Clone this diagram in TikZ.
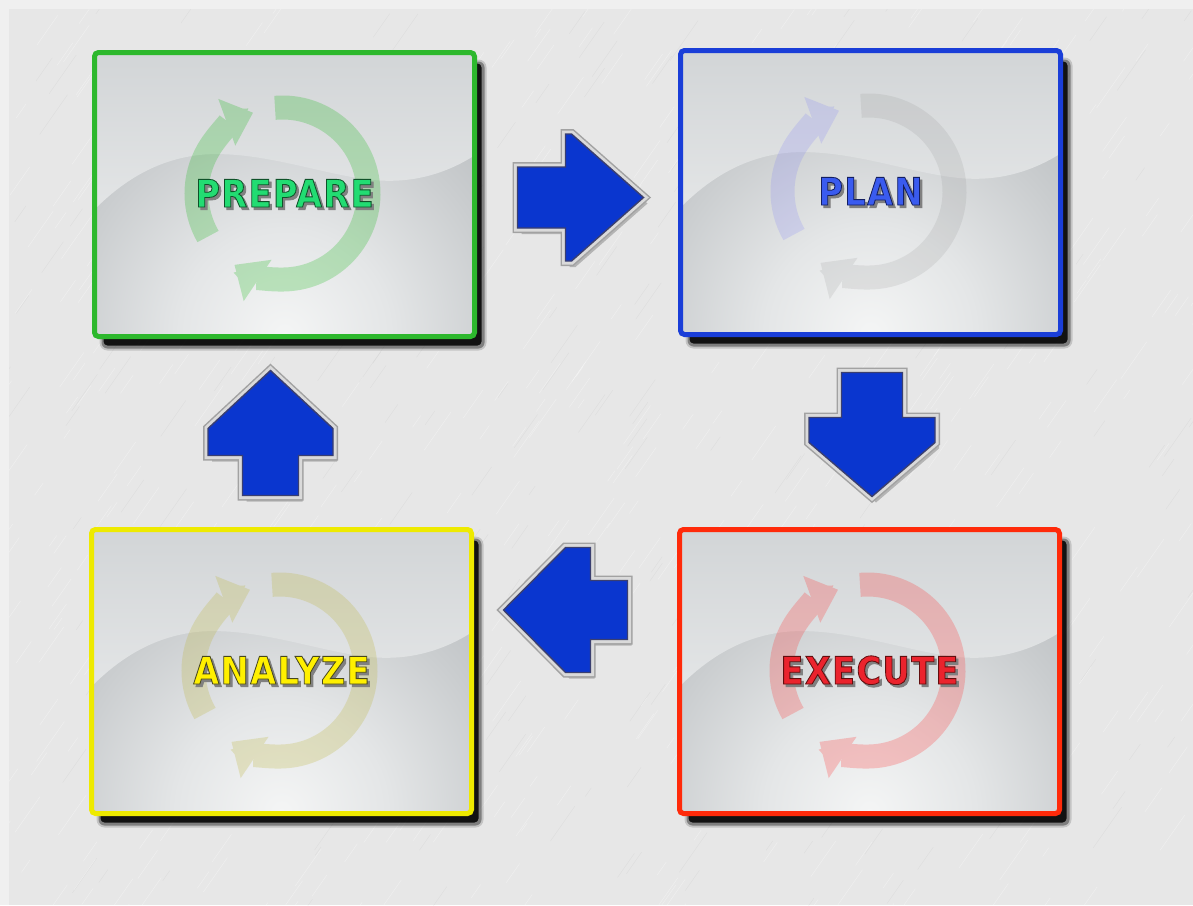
\documentclass[tikz,border=0pt]{standalone}
\usepackage{fontspec}
\usetikzlibrary{arrows.meta,calc}
\newfontfamily\labelfontfam{DejaVu Sans}[FakeStretch=0.88,LetterSpace=4,FakeBold=2.2]
\newcommand\lblfont{\labelfontfam\bfseries\fontsize{38}{42}\selectfont}

\definecolor{bgouter}{HTML}{F0F0F0}
\definecolor{bgpanel}{HTML}{E7E7E7}
\definecolor{topA}{HTML}{D2D5D7}
\definecolor{topB}{HTML}{E3E5E6}
\definecolor{glowA}{HTML}{F4F5F5}
\definecolor{glowB}{HTML}{E4E6E7}
\definecolor{glowC}{HTML}{CACDCF}
\definecolor{glowD}{HTML}{B2B6B9}
\definecolor{glowE}{HTML}{A3A7AA}
\definecolor{prepBorder}{HTML}{2DB82D}
\definecolor{prepText}{HTML}{22DC72}
\definecolor{planBorder}{HTML}{1A3ED8}
\definecolor{planText}{HTML}{3A5BEF}
\definecolor{execBorder}{HTML}{FF2A0A}
\definecolor{execText}{HTML}{EB232D}
\definecolor{anaBorder}{HTML}{EEEA00}
\definecolor{anaText}{HTML}{FFF000}
\definecolor{arrowblue}{HTML}{0A36CF}
\definecolor{arrowedge}{HTML}{3A3F70}
\definecolor{silverA}{HTML}{A2A2A2}
\definecolor{silverB}{HTML}{DADADA}
\definecolor{iconGray}{HTML}{8A8A8A}

\pgfdeclareradialshading{boxglow}{\pgfpoint{0bp}{0bp}}{%
 color(0bp)=(glowA); color(6bp)=(glowB); color(12.5bp)=(glowC);
 color(19bp)=(glowD); color(25bp)=(glowE); color(50bp)=(glowE)}

\tikzset{
 stagebox/.style={draw, line width=5pt, rounded corners=4pt,
   minimum width=380pt, minimum height=284pt, inner sep=0pt, font=\lblfont},
 iconarc/.style={line width=24pt, -{Triangle[width=48pt,length=28pt]}},
}

% text with dark outline (stroke colour set by a pdf literal) and a drop shadow
% #1 fill colour, #2 outline as pdf rgb triple, #3 text
\newcommand\fxtext[3]{%
 \rlap{\kern2.4pt\raisebox{-2.6pt}{\color{black!50}#3}}%
 {\color{#1}\special{pdf:literal direct #2 RG}#3}}

% #1 name, #2 x, #3 y (top-left of border centre line), #4 border, #5 text colour, #6 label
% icon colours from \icA, \icB, opacity \icO, outline \olc
\newcommand\stage[6]{%
\begin{scope}[shift={(#2,#3)}]
 \fill[black,opacity=.15,rounded corners=8pt] (5,7) rectangle (392,298);
 \fill[black,opacity=.35,rounded corners=6pt] (7,9) rectangle (390,296);
 \fill[black,opacity=.85,rounded corners=4pt] (9,11) rectangle (387,293);
 \begin{scope}
  \clip[rounded corners=3pt] (0,0) rectangle (380,284);
  \shade[shading=boxglow] (190,282) circle (440);
  \shade[top color=topA, bottom color=topB]
    (0,0) -- (380,0) -- (380,103)
    .. controls (350,122) and (318,130) .. (285,128)
    .. controls (235,125) and (170,98) .. (110,102)
    .. controls (60,106) and (25,132) .. (0,157) -- cycle;
  \begin{scope}[transparency group, opacity=\icO]
   \draw[iconarc, draw=\icA] (188,141) ++(150:86) arc[start angle=150, end angle=250, radius=86];
   \draw[iconarc, draw=\icB] (188,141) ++(-95:86) arc[start angle=-95, end angle=124, radius=86];
  \end{scope}
 \end{scope}
 \node[stagebox, draw=#4] (#1) at (190,142) {\fxtext{#5}{\olc}{#6}};
\end{scope}}

% #1 origin, #2 rotation, #3 shaft, #4 flat, #5 head diagonal, #6 shaft half width, #7 head half width
\newcommand\blockarrow[7]{%
 \def\arrowpath{(0,-#6) -- (#3,-#6) -- (#3,-#7) -- ({#3+#4},-#7) -- ({#3+#4+#5},0) -- ({#3+#4},#7) -- (#3,#7) -- (#3,#6) -- (0,#6) -- cycle}%
 \fill[black, opacity=.22, shift={($#1+(4,6)$)}, rotate=#2] \arrowpath;
 \draw[line width=10pt, draw=silverA, shift={#1}, rotate=#2] \arrowpath;
 \draw[line width=7pt, draw=silverB, shift={#1}, rotate=#2] \arrowpath;
 \filldraw[fill=arrowblue, draw=arrowedge, line width=1.4pt, shift={#1}, rotate=#2] \arrowpath;
}

\begin{document}
\begin{tikzpicture}[x=1pt,y=-1pt]
\useasboundingbox (0,0) rectangle (1193,905);
\fill[bgouter] (0,0) rectangle (1193,905);
\fill[bgpanel] (9,9) rectangle (1193,905);
\begin{scope}
 \clip (9,9) rectangle (1193,905);
 \pgfmathsetseed{7}
 \foreach \i in {1,...,700}{
  \pgfmathsetmacro\xa{rnd*1500-150}
  \pgfmathsetmacro\ya{rnd*1000}
  \pgfmathsetmacro\ll{10+rnd*40}
  \draw[white, opacity=.35, line width=.5pt] (\xa,\ya) -- ++(-55:\ll);
 }
 \foreach \i in {1,...,300}{
  \pgfmathsetmacro\xa{rnd*1500-150}
  \pgfmathsetmacro\ya{rnd*1000}
  \pgfmathsetmacro\ll{10+rnd*40}
  \draw[black, opacity=.035, line width=.5pt] (\xa,\ya) -- ++(-55:\ll);
 }
\end{scope}

\def\icA{green!70!black}\def\icB{green!70!black}\def\icO{0.22}\def\olc{0.06 0.32 0.16}
\stage{prepare}{94.5}{52.5}{prepBorder}{prepText}{PREPARE}
\def\icA{blue!60}\def\icB{iconGray}\def\icO{0.16}\def\olc{0.08 0.12 0.38}
\stage{plan}{680.5}{50.5}{planBorder}{planText}{PLAN}
\def\icA{yellow!70!black}\def\icB{yellow!70!black}\def\icO{0.25}\def\olc{0.28 0.28 0.12}
\stage{analyze}{91.5}{529.5}{anaBorder}{anaText}{ANALYZE}
\def\icA{red!80}\def\icB{red!80}\def\icO{0.25}\def\olc{0.38 0.06 0.06}
\stage{execute}{679.5}{529.5}{execBorder}{execText}{EXECUTE}

% block arrows between the stages
\blockarrow{(517.5,197.5)}{0}{48}{6}{72}{30.5}{63.5}
\blockarrow{(872,372.5)}{-90}{45}{25}{54}{30.5}{63}
\blockarrow{(627.5,610)}{180}{37}{25}{62}{29.5}{62.5}
\blockarrow{(270.5,495.5)}{90}{40}{27}{58}{28}{62.5}
\end{tikzpicture}
\end{document}
